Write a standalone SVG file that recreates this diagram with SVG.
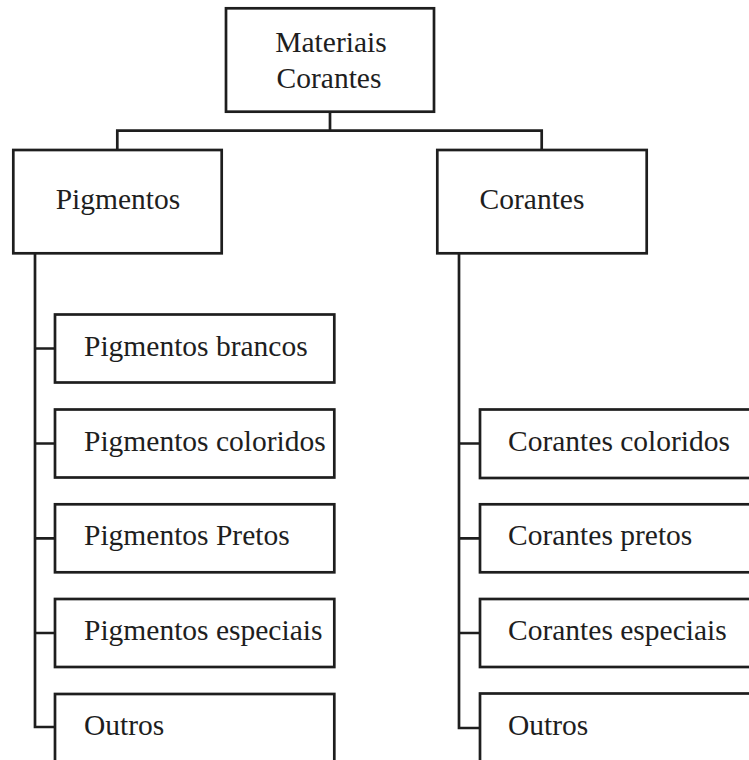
<svg xmlns="http://www.w3.org/2000/svg" width="749" height="760" viewBox="0 0 749 760">
<style>
.box{fill:#fff;stroke:#1e1e1e;stroke-width:2.7}
.ln{fill:none;stroke:#1e1e1e;stroke-width:2.7;stroke-linejoin:miter}
text{font-family:"Liberation Serif","Times New Roman",serif;font-size:29.5px;fill:#1e1e1e}
.c{text-anchor:middle}
</style>
<rect width="749" height="760" fill="#fff"/>
<g id="connectors">
<path class="ln" d="M330,112 V130.7 M117.3,150 V130.7 H541.7 V150"/>
<path class="ln" d="M35,253 V727 H55 M35,348.5 H55 M35,443.5 H55 M35,538.3 H55 M35,633 H55"/>
<path class="ln" d="M459,253 V728 H480 M459,443.5 H480 M459,538.3 H480 M459,633 H480"/>
</g>
<g id="n-root"><rect class="box" x="226" y="8.3" width="208" height="103.4"/><text class="c" x="331" y="52">Materiais</text><text class="c" x="329" y="88">Corantes</text></g>
<g id="n-pig"><rect class="box" x="13.3" y="150" width="208.4" height="103.3"/><text class="c" x="118" y="209">Pigmentos</text></g>
<g id="n-cor"><rect class="box" x="437.3" y="150" width="209.4" height="103.3"/><text class="c" x="532" y="209">Corantes</text></g>
<g id="n-p1"><rect class="box" x="55" y="314.5" width="279.3" height="68"/><text x="84" y="355.5">Pigmentos brancos</text></g>
<g id="n-p2"><rect class="box" x="55" y="409.5" width="279.3" height="68"/><text x="84" y="450.5">Pigmentos coloridos</text></g>
<g id="n-p3"><rect class="box" x="55" y="504.3" width="279.3" height="68"/><text x="84" y="545.3">Pigmentos Pretos</text></g>
<g id="n-p4"><rect class="box" x="55" y="599" width="279.3" height="68"/><text x="84" y="640">Pigmentos especiais</text></g>
<g id="n-p5"><rect class="box" x="55" y="694" width="279.3" height="90"/><text x="84" y="735">Outros</text></g>
<g id="n-c1"><rect class="box" x="480" y="409.5" width="300" height="68.5"/><text x="508" y="450.5">Corantes coloridos</text></g>
<g id="n-c2"><rect class="box" x="480" y="504.3" width="300" height="68"/><text x="508" y="545.3">Corantes pretos</text></g>
<g id="n-c3"><rect class="box" x="480" y="599" width="300" height="68"/><text x="508" y="640">Corantes especiais</text></g>
<g id="n-c4"><rect class="box" x="480" y="693.5" width="300" height="90"/><text x="508" y="735">Outros</text></g>
</svg>
